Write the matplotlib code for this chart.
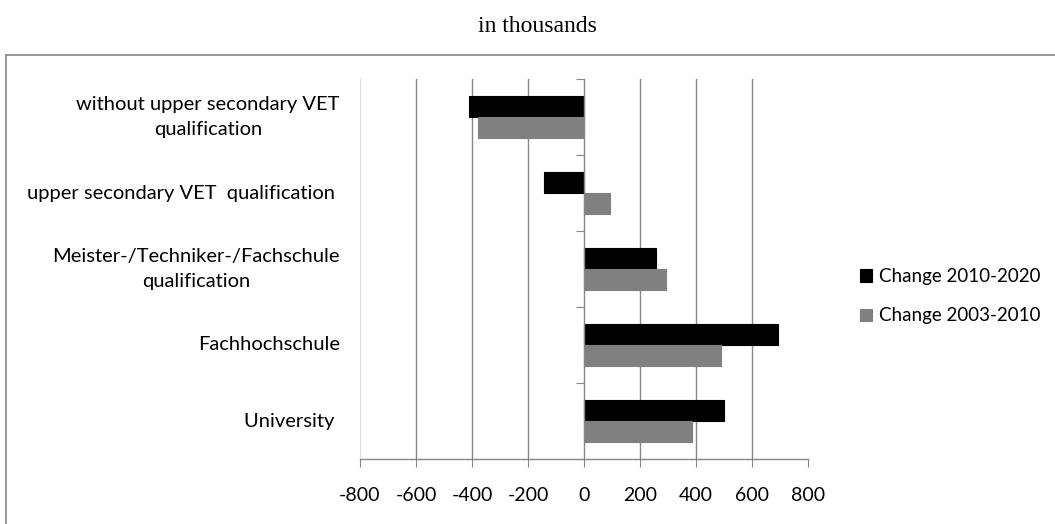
import matplotlib.pyplot as plt
from matplotlib.lines import Line2D
import numpy as np

categories = ["without upper secondary VET\nqualification",
              "upper secondary VET  qualification ",
              "Meister-/Techniker-/Fachschule\nqualification",
              "Fachhochschule",
              "University "]
change_2010_2020 = [-410, -143, 257, 694, 501]
change_2003_2010 = [-380, 93, 293, 488, 387]
series_names = ["Change 2010-2020", "Change 2003-2010"]
xticks = [-800, -600, -400, -200, 0, 200, 400, 600, 800]

font = "Lato"
gridc = "#868686"

fig = plt.figure(figsize=(10.55, 5.24), dpi=100)
ax = fig.add_axes([360 / 1055, 1 - 459 / 524, 448 / 1055, 380 / 524])

n = len(categories)
ypos = np.arange(n)[::-1]  # first category on top
h = 0.28
ax.barh(ypos + h / 2, change_2010_2020, height=h, color="black",
        edgecolor="black", linewidth=0.8, label=series_names[0], zorder=3)
ax.barh(ypos - h / 2, change_2003_2010, height=h, color="#808080",
        edgecolor="#808080", linewidth=0.8, label=series_names[1], zorder=3)

ax.set_xlim(-800, 800)
ax.set_ylim(-0.5, n - 0.5)

# vertical gridlines
for v in xticks[1:-1]:
    if v != 0:
        ax.axvline(v, color=gridc, linewidth=1, zorder=1)
ax.axvline(-800, color="#dddddd", linewidth=0.8, zorder=1)

for s in ["top", "right"]:
    ax.spines[s].set_visible(False)
ax.spines["left"].set_position(("data", 0))
ax.spines["left"].set_color(gridc)
ax.spines["left"].set_zorder(4)
ax.spines["bottom"].set_color(gridc)
ax.spines["left"].set_linewidth(1)
ax.spines["bottom"].set_linewidth(1)

ax.set_xticks(xticks)
ax.set_xticklabels([str(v) for v in xticks], fontfamily=font, fontsize=14)
ax.tick_params(axis="x", direction="out", length=6, color=gridc, pad=14)
ax.set_yticks(np.arange(n + 1) - 0.5)
ax.set_yticklabels([])
ax.tick_params(axis="y", direction="out", length=6, color=gridc)

for y, lab in zip(ypos, categories):
    ax.text(-0.045, y, lab, transform=ax.get_yaxis_transform(),
            ha="right", va="center", multialignment="center",
            fontfamily=font, fontsize=14.5, linespacing=1.55)

leg = fig.legend(loc="upper left", bbox_to_anchor=(843 / 1055, 1 - 251 / 524),
                 frameon=False, prop={"family": font, "size": 13.5},
                 handlelength=0.65, handleheight=0.65, handletextpad=0.35,
                 labelspacing=1.2)

fig.text(537 / 1055, 1 - 27 / 524, "in thousands", ha="center", va="center",
         fontfamily="Liberation Serif", fontsize=17)

# outer chart frame (left and top edges visible)
fig.add_artist(Line2D([6 / 1055, 6 / 1055], [0, 1 - 55 / 524],
                      transform=fig.transFigure, color="#8c8c8c", linewidth=1.3))
fig.add_artist(Line2D([6 / 1055, 1], [1 - 55 / 524, 1 - 55 / 524],
                      transform=fig.transFigure, color="#8c8c8c", linewidth=1.3))

fig.savefig("out.png", dpi=100)
